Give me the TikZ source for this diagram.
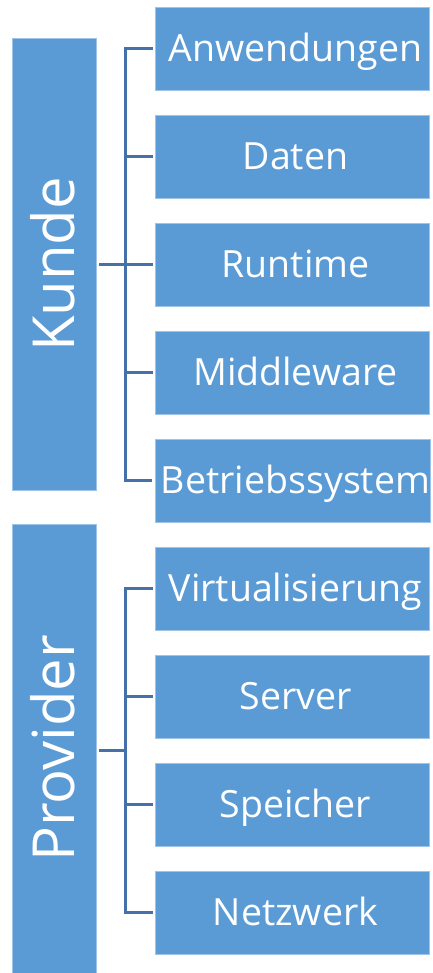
\documentclass[tikz,border=0pt]{standalone}
\usepackage{fontspec}
\setmainfont{Open Sans}
\definecolor{boxblue}{RGB}{91,155,213}
\definecolor{edgeblue}{RGB}{160,196,232}
\definecolor{lineblue}{RGB}{68,114,168}
\tikzset{
  item/.style={draw=edgeblue, line width=0.8pt, fill=boxblue, text=white,
    minimum width=274pt, minimum height=83pt, inner sep=0pt,
    font=\fontsize{37.5}{40}\selectfont, text height=26.8pt, text depth=0pt,
    execute at begin node=\hspace*{6pt}},
  group/.style={draw=edgeblue, line width=0.8pt, fill=boxblue, minimum width=83.5pt, inner sep=0pt},
  grouplabel/.style={text=white, rotate=90, inner sep=0pt,
    font=\fontsize{58}{60}\selectfont, text height=41.4pt, text depth=0pt},
  conn/.style={draw=lineblue, line width=2.5pt}
}
\begin{document}
\begin{tikzpicture}[x=1pt,y=-1pt]
\useasboundingbox (0,0) rectangle (433,973);
\begin{scope}
\clip (0,0) rectangle (433,973);
\node[group, minimum height=452pt] (kunde) at (54.25,264.5) {};
\node[group, minimum height=452pt] (provider) at (54.25,750.5) {};
\end{scope}
\node[grouplabel] (kundetxt) at (kunde.center) {Kunde};
\node[grouplabel] (providertxt) at (54.25,748.5) {Provider};
\node[item] (anw) at (292.5,48.5) {Anwendungen};
\node[item] (dat) at (292.5,156.5) {Daten};
\node[item] (run) at (292.5,264.5) {Runtime};
\node[item] (mid) at (292.5,372.5) {Middleware};
\node[item] (bet) at (292.5,480.5) {Betriebssystem};
\node[item] (vir) at (292.5,588.5) {Virtualisierung};
\node[item] (ser) at (292.5,696.5) {Server};
\node[item] (spe) at (292.5,804.5) {Speicher};
\node[item] (net) at (292.5,912.5) {Netzwerk};
\coordinate (kb) at (125.5,264.5);
\coordinate (pb) at (125.5,750.5);
% Kunde connectors
\draw[conn] ([xshift=-2.5pt]anw.west) -| (kb) |- ([xshift=-2.5pt]bet.west);
\draw[conn] ([xshift=3pt]kunde.east |- kb) -- ([xshift=-2.5pt]run.west);
\draw[conn] (kb |- dat.west) -- ([xshift=-2.5pt]dat.west);
\draw[conn] (kb |- mid.west) -- ([xshift=-2.5pt]mid.west);
% Provider connectors
\draw[conn] ([xshift=-2.5pt]vir.west) -| (pb) |- ([xshift=-2.5pt]net.west);
\draw[conn] ([xshift=3pt]provider.east |- pb) -- (pb);
\draw[conn] (pb |- ser.west) -- ([xshift=-2.5pt]ser.west);
\draw[conn] (pb |- spe.west) -- ([xshift=-2.5pt]spe.west);
\end{tikzpicture}
\end{document}
